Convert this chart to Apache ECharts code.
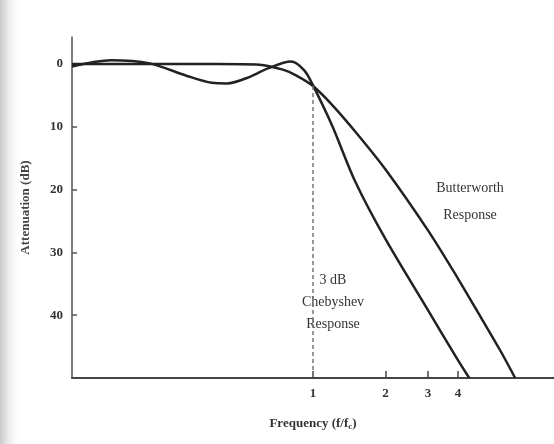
<!DOCTYPE html>
<html>
<head>
<meta charset="utf-8">
<script src="https://cdn.jsdelivr.net/npm/echarts@6/dist/echarts.min.js"></script>
<style>
  html, body { margin: 0; padding: 0; background: #fff; }
  #chart { width: 554px; height: 444px; }
</style>
</head>
<body>
<div id="chart"></div>
<script>
// frequency ratio f/fc and attenuation in dB
const butterFreq = [0.1, 0.2, 0.4, 0.6, 0.75, 0.85, 1.0, 1.2, 1.5, 2, 3, 4, 5, 6, 6.9];
const butterDb   = [0, 0, 0, 0.1, 0.9, 1.8, 3.5, 6.5, 10.8, 16.8, 26.5, 34.2, 40.5, 45.7, 50];

const chebyFreq = [0.1, 0.145, 0.21, 0.3, 0.38, 0.44, 0.55, 0.65, 0.81, 0.92, 1.0, 1.2, 1.5, 2, 3, 4, 4.45];
const chebyDb   = [0.4, -0.6, -0.1, 1.9, 3.0, 3.1, 2.0, 0.7, -0.4, 1.0, 3.4, 9.8, 18.8, 27.9, 39.2, 47.2, 50];

const xTicks = [1, 2, 3, 4];
const yTicks = [0, 10, 20, 30, 40];

const serif = "'Liberation Serif', 'DejaVu Serif', serif";

function toPoints(freq, db) {
  return freq.map((f, i) => [Math.log10(f), db[i]]);
}

const chart = echarts.init(document.getElementById("chart"));

const options = {
  animation: false,
  backgroundColor: "#fff",
  grid: { left: 72, right: 0, top: 37, bottom: 66 },
  graphic: [
    // scanner shading on the left edge
    {
      type: "rect",
      left: 0, top: 0,
      shape: { width: 22, height: 444 },
      style: {
        fill: new echarts.graphic.LinearGradient(0, 0, 1, 0, [
          { offset: 0, color: "#c8c8c8" },
          { offset: 1, color: "rgba(255,255,255,0)" },
        ]),
      },
      z: -1,
    },
    {
      type: "text",
      x: 470, y: 175,
      style: {
        text: "Butterworth\nResponse",
        font: "14px " + serif,
        fill: "#333",
        lineHeight: 27,
        align: "center",
        verticalAlign: "top",
      },
    },
    {
      type: "text",
      x: 333, y: 269,
      style: {
        text: "3 dB\nChebyshev\nResponse",
        font: "14px " + serif,
        fill: "#333",
        lineHeight: 22,
        align: "center",
        verticalAlign: "top",
      },
    },
  ],
  xAxis: {
    type: "value",
    min: -1,
    max: 1,
    name: "Frequency (f/f{sub|c})",
    nameLocation: "middle",
    nameGap: 38,
    nameTextStyle: {
      fontFamily: serif,
      fontWeight: "bold",
      fontSize: 13,
      color: "#333",
      rich: {
        sub: { fontSize: 9, fontFamily: serif, fontWeight: "bold", color: "#333", padding: [6, 0, 0, 0] },
      },
    },
    splitLine: { show: false },
    axisLine: { onZero: false, lineStyle: { color: "#444", width: 2 } },
    axisTick: {
      show: true,
      inside: true,
      length: 7,
      customValues: xTicks.map(Math.log10),
      lineStyle: { color: "#444", width: 1.5 },
    },
    axisLabel: {
      customValues: xTicks.map(Math.log10),
      formatter: (v) => String(Math.round(Math.pow(10, v))),
      margin: 9,
      fontFamily: serif,
      fontWeight: "bold",
      fontSize: 13,
      color: "#333",
    },
  },
  yAxis: {
    type: "value",
    inverse: true,
    min: -4.3,
    max: 50,
    name: "Attenuation (dB)",
    nameLocation: "middle",
    nameGap: 40,
    nameTextStyle: {
      fontFamily: serif,
      fontWeight: "bold",
      fontSize: 13,
      color: "#444",
    },
    splitLine: { show: false },
    axisLine: { show: true, onZero: false, lineStyle: { color: "#555", width: 1.5 } },
    axisTick: {
      show: true,
      inside: true,
      length: 5,
      customValues: yTicks,
      lineStyle: { color: "#555", width: 1.5 },
    },
    axisLabel: {
      customValues: yTicks,
      margin: 9,
      fontFamily: serif,
      fontWeight: "bold",
      fontSize: 13,
      color: "#333",
    },
  },
  series: [
    {
      name: "Butterworth",
      type: "line",
      data: toPoints(butterFreq, butterDb),
      smooth: 0.3,
      showSymbol: false,
      lineStyle: { color: "#222", width: 2.5 },
      markLine: {
        silent: true,
        symbol: ["none", "none"],
        label: { show: false },
        lineStyle: { color: "#777", width: 1.5, type: [4, 3] },
        data: [[{ coord: [0, 3.5] }, { coord: [0, 50] }]],
      },
    },
    {
      name: "Chebyshev",
      type: "line",
      data: toPoints(chebyFreq, chebyDb),
      smooth: 0.3,
      showSymbol: false,
      lineStyle: { color: "#222", width: 2.5 },
    },
  ],
};

chart.setOption(options);
</script>
</body>
</html>
